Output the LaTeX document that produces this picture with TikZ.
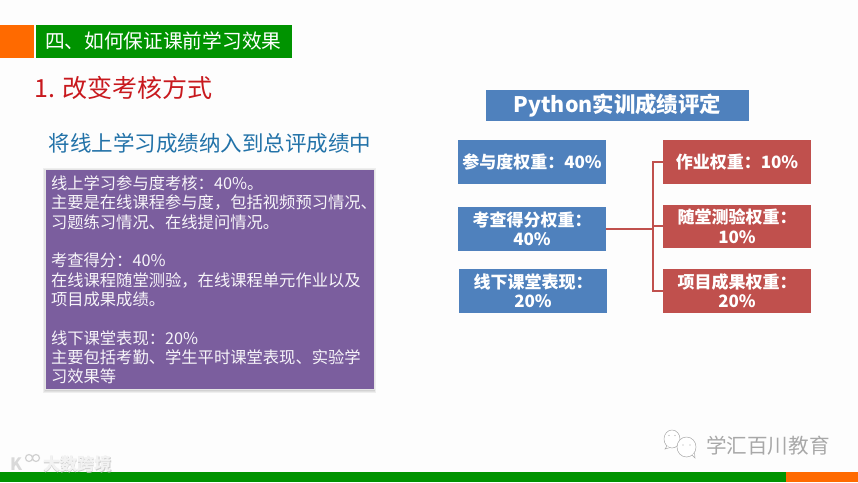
\documentclass[tikz,border=0pt]{standalone}
\usepackage{fontspec}
\setmainfont{Noto Sans CJK SC}
\definecolor{bgc}{HTML}{FDFDFD}
\definecolor{gr}{HTML}{009300}
\definecolor{org}{HTML}{FF6A00}
\definecolor{bluebox}{HTML}{4F81BD}
\definecolor{redbox}{HTML}{C0504D}
\definecolor{purp}{HTML}{7B5E9E}
\definecolor{titlered}{HTML}{C8191E}
\definecolor{subblue}{HTML}{2272A8}
\definecolor{wm}{HTML}{A8A8A8}
\tikzset{
 fillbox/.style={inner sep=0pt,outer sep=0pt,anchor=north west},
 weight/.style={fillbox,fill=#1,text=white,font=\fontsize{17}{19.5}\selectfont\bfseries,align=center,minimum width=148pt,minimum height=43.5pt},
 link/.style={redbox,line width=1.7pt},
 plain/.style={inner sep=0pt,outer sep=0pt,anchor=west},
 softshadow/.style={black,opacity=.06},
 bubble/.style={wm,line width=.5pt,fill=white},
 wmtext/.style={plain,font=\fontsize{20.6}{24}\selectfont},
 logotext/.style={plain,font=\fontsize{17.2}{20}\selectfont\bfseries}
}
\begin{document}
\begin{tikzpicture}[x=1pt,y=-1pt]
\fill[bgc] (0,0) rectangle (858,482);
\useasboundingbox (0,0) rectangle (858,482);
% header
\node[fillbox,fill=org,minimum width=34pt,minimum height=33pt] (hdo) at (0,25) {};
\node[fillbox,fill=gr,minimum width=256pt,minimum height=33pt] (hdg) at (36,25) {};
\node[plain,text=white,font=\fontsize{19.7}{24}\selectfont] (hdt) at (45,41) {四、如何保证课前学习效果};
\node[plain,text=titlered,font=\fontsize{25}{30}\selectfont] (ttl) at (34.5,88) {1. 改变考核方式};
\node[plain,text=subblue,font=\fontsize{21.5}{26}\selectfont] (sub) at (48.5,143) {将线上学习成绩纳入到总评成绩中};
% purple panel
\fill[softshadow] (43,168) rectangle (376,393);
\fill[softshadow] (44,169) rectangle (375,392);
\fill[softshadow] (44.5,170) rectangle (374.5,391);
\node[fillbox,fill=purp,draw=black!10,line width=.6pt,minimum width=329pt,minimum height=220pt] (panel) at (45,169) {};
\node[fillbox,text=white!94!purp,align=left,font=\fontsize{16.3}{19.35}\selectfont] (ptext) at (51,175.5) {线上学习参与度考核：40\%。\\主要是在线课程参与度，包括视频预习情况、\\习题练习情况、在线提问情况。\\[19.35pt]考查得分：40\%\\在线课程随堂测验，在线课程单元作业以及\\项目成果成绩。\\[19.35pt]线下课堂表现：20\%\\主要包括考勤、学生平时课堂表现、实验学\\习效果等};
% chart
\node[fillbox,fill=bluebox,text=white,font=\fontsize{21.4}{26}\selectfont\bfseries,minimum width=263pt,minimum height=31.5pt] (head) at (486,89.5) {Python实训成绩评定};
\node[weight=bluebox] (a) at (458,140) {参与度权重：40\%};
\node[weight=bluebox] (b) at (458,207) {考查得分权重：\\40\%};
\node[weight=bluebox] (c) at (459,269) {线下课堂表现：\\20\%};
\node[weight=redbox] (d) at (663,140) {作业权重：10\%};
\node[weight=redbox] (e) at (663,204.5) {随堂测验权重：\\10\%};
\node[weight=redbox] (f) at (663,269) {项目成果权重：\\20\%};
\coordinate (j) at (653,228.75);
\draw[link] (b.east) -- (j);
\draw[link] (d.west) -| (j);
\draw[link] (f.west) -| (j);
\draw[link] (e.west) -- (e.west -| j);
% footer
\node[fillbox,fill=gr,minimum width=786pt,minimum height=10pt] (fg) at (0,472) {};
\node[fillbox,fill=org,minimum width=72pt,minimum height=10pt] (fo) at (786,472) {};
% watermarks
\draw[bubble] (672,439) ellipse (8pt and 9pt);
\draw[bubble] (667,446) -- (665,449) -- (670,447.5);
\fill[wm] (669,435.5) circle (.7pt) (675,435.5) circle (.7pt);
\draw[bubble] (686.5,447) ellipse (9.5pt and 10pt);
\draw[bubble] (692,455) -- (695,458) -- (694.5,453);
\fill[wm] (683,445) circle (.7pt) (690,445) circle (.7pt);
\node[wmtext,text=white] (wxs) at (706.5,447) {学汇百川教育};
\node[wmtext,text=wm] (wx) at (706,446) {学汇百川教育};
\node[logotext,text=black!20] (dks) at (43.5,465) {大数跨境};
\node[logotext,text=white!95!black] (dk) at (43,464.3) {大数跨境};
\node[plain,text=white!85!black,font=\fontsize{17}{20}\selectfont\bfseries] (lg) at (10,464) {K};
\draw[white!82!black,line width=1.2pt] (29,458) circle (3.5pt) (36,458) circle (3.5pt);
\end{tikzpicture}
\end{document}
